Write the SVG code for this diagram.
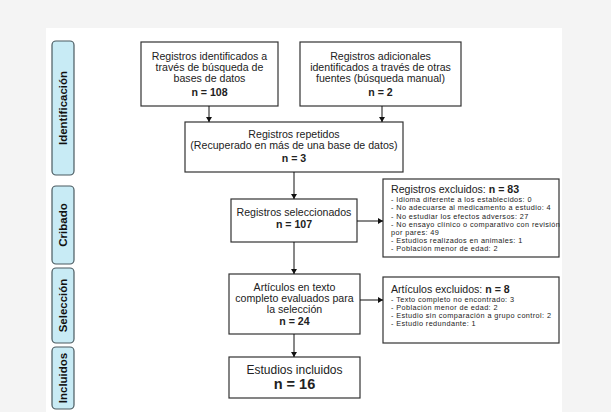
<svg xmlns="http://www.w3.org/2000/svg" width="611" height="412" viewBox="0 0 611 412">
<defs>
<marker id="ah" markerWidth="6" markerHeight="6" refX="5" refY="3" orient="auto" markerUnits="userSpaceOnUse">
<path d="M0,0 L5,3 L0,6 Z" fill="#111"/>
</marker>
</defs>
<style>
.box{fill:#fff;stroke:#333;stroke-width:1.2}
.side{fill:#c8ebf5;stroke:#4a5a60;stroke-width:1.2}
.t{font-family:"Liberation Sans",Arial,sans-serif;font-size:10.6px;fill:#222;text-anchor:middle}
.b{font-weight:bold}
.s{font-family:"Liberation Sans",Arial,sans-serif;font-size:11.5px;font-weight:bold;fill:#111;text-anchor:middle}
.x{font-family:"Liberation Sans",Arial,sans-serif;font-size:7.3px;letter-spacing:0.4px;fill:#222}
.xt{font-family:"Liberation Sans",Arial,sans-serif;font-size:10.6px;fill:#222}
.c{stroke:#111;stroke-width:1;fill:none;marker-end:url(#ah)}
</style>
<rect x="0" y="0" width="611" height="412" fill="#f4f4f4"/>
<rect x="46" y="28" width="516" height="384" fill="#fff"/>

<g id="lbl-identificacion">
<rect class="side" x="52" y="41" width="22" height="134" rx="4"/>
<text class="s" transform="translate(67,108) rotate(-90)">Identificación</text>
</g>
<g id="lbl-cribado">
<rect class="side" x="52" y="186" width="22" height="78" rx="4"/>
<text class="s" transform="translate(67,225) rotate(-90)">Cribado</text>
</g>
<g id="lbl-seleccion">
<rect class="side" x="52" y="268" width="22" height="75" rx="4"/>
<text class="s" transform="translate(67,305.5) rotate(-90)">Selección</text>
</g>
<g id="lbl-incluidos">
<rect class="side" x="52" y="347" width="22" height="62" rx="4"/>
<text class="s" transform="translate(67,378) rotate(-90)">Incluidos</text>
</g>

<g id="n-bases">
<rect class="box" x="141" y="42" width="137" height="64"/>
<text class="t" x="209.5" y="59.5">Registros identificados a</text>
<text class="t" x="209.5" y="70.5">través de búsqueda de</text>
<text class="t" x="209.5" y="81.5">bases de datos</text>
<text class="t b" x="209.5" y="95.5">n = 108</text>
</g>
<g id="n-adicionales">
<rect class="box" x="300" y="42" width="161" height="64"/>
<text class="t" x="380.5" y="59.5">Registros adicionales</text>
<text class="t" x="380.5" y="70.5">identificados a través de otras</text>
<text class="t" x="380.5" y="81.5">fuentes (búsqueda manual)</text>
<text class="t b" x="380.5" y="95.5">n = 2</text>
</g>
<g id="n-repetidos">
<rect class="box" x="185" y="122" width="218" height="50"/>
<text class="t" x="294" y="138">Registros repetidos</text>
<text class="t" x="294" y="149">(Recuperado en más de una base de datos)</text>
<text class="t b" x="294" y="162">n = 3</text>
</g>
<g id="n-seleccionados">
<rect class="box" x="231" y="199" width="126" height="43"/>
<text class="t" x="294" y="216">Registros seleccionados</text>
<text class="t b" x="294" y="228">n = 107</text>
</g>
<g id="n-articulos">
<rect class="box" x="229" y="274" width="131" height="60"/>
<text class="t" x="294.5" y="291">Artículos en texto</text>
<text class="t" x="294.5" y="302">completo evaluados para</text>
<text class="t" x="294.5" y="313">la selección</text>
<text class="t b" x="294.5" y="325">n = 24</text>
</g>
<g id="n-incluidos">
<rect class="box" x="229" y="357" width="131" height="41"/>
<text class="t" x="294.5" y="374" style="font-size:12px">Estudios incluidos</text>
<text class="t b" x="294.5" y="388.5" style="font-size:14.5px">n = 16</text>
</g>
<g id="n-excluidos">
<rect class="box" x="383" y="179" width="176" height="78"/>
<text class="xt" x="391" y="193">Registros excluidos: <tspan class="b">n = 83</tspan></text>
<text class="x" x="391" y="202.3">- Idioma diferente a los establecidos: 0</text>
<text class="x" x="391" y="210.4">- No adecuarse al medicamento a estudio: 4</text>
<text class="x" x="391" y="218.5">- No estudiar los efectos adversos: 27</text>
<text class="x" x="391" y="226.6">- No ensayo clínico o comparativo con revisión</text>
<text class="x" x="391" y="234.7">por pares: 49</text>
<text class="x" x="391" y="242.8">- Estudios realizados en animales: 1</text>
<text class="x" x="391" y="250.9">- Población menor de edad: 2</text>
</g>
<g id="n-art-excluidos">
<rect class="box" x="383" y="277" width="176" height="66"/>
<text class="xt" x="391" y="293">Artículos excluidos: <tspan class="b">n = 8</tspan></text>
<text class="x" x="391" y="301.8">- Texto completo no encontrado: 3</text>
<text class="x" x="391" y="309.9">- Población menor de edad: 2</text>
<text class="x" x="391" y="318">- Estudio sin comparación a grupo control: 2</text>
<text class="x" x="391" y="326.1">- Estudio redundante: 1</text>
</g>

<g id="connectors">
<line class="c" x1="209" y1="106" x2="209" y2="122"/>
<line class="c" x1="382" y1="106" x2="382" y2="122"/>
<line class="c" x1="294" y1="172" x2="294" y2="199"/>
<line class="c" x1="294" y1="242" x2="294" y2="274"/>
<line class="c" x1="294" y1="334" x2="294" y2="357"/>
<line class="c" x1="357" y1="221" x2="383" y2="221"/>
<line class="c" x1="360" y1="300" x2="383" y2="300"/>
</g>
</svg>
